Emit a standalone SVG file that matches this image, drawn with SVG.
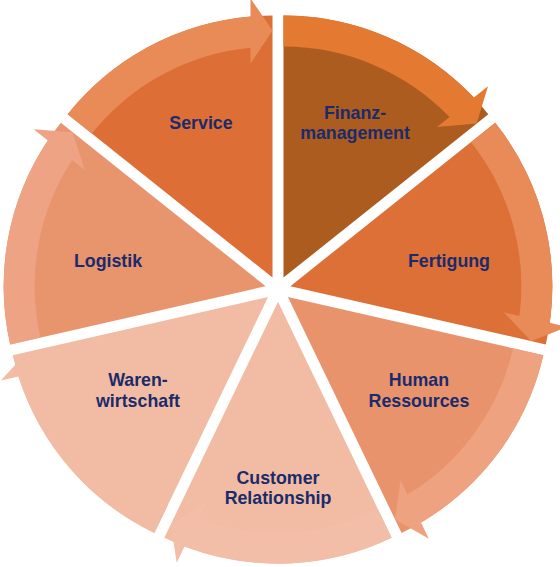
<svg xmlns="http://www.w3.org/2000/svg" width="560" height="567" viewBox="0 0 560 567">
<style>
.lbl{font-family:"Liberation Sans",Arial,sans-serif;font-weight:bold;font-size:17.8px;fill:#1a2b6b;text-anchor:middle}
</style>
<defs>
<path id="wedge" d="M0 0 L0 -262 A262 262 0 0 1 204.84 -163.35 Z"/>
<path id="band" d="M0 -262 A262 262 0 0 1 190.40 -179.97 L204.51 -191.23 L193.11 -154.00 L153.49 -150.55 L166.06 -160.57 A231 231 0 0 0 0 -231 Z"/>
</defs>
<rect width="560" height="567" fill="#ffffff"/>
<g id="finanz">
<use href="#wedge" transform="translate(283.50,277.58) rotate(0)" fill="#ad5c20"/>
<text class="lbl" x="355" y="119">Finanz-</text>
<text class="lbl" x="355" y="139">management</text>
</g>
<g id="fertigung">
<use href="#wedge" transform="translate(290.36,286.18) rotate(51.4286)" fill="#dd7036"/>
<text class="lbl" x="449" y="267">Fertigung</text>
</g>
<g id="human">
<use href="#wedge" transform="translate(287.91,296.91) rotate(102.857)" fill="#e8936b"/>
<text class="lbl" x="419" y="386">Human</text>
<text class="lbl" x="419" y="407">Ressources</text>
</g>
<g id="customer">
<use href="#wedge" transform="translate(278,301.68) rotate(154.286)" fill="#f2bca4"/>
<text class="lbl" x="278" y="484">Customer</text>
<text class="lbl" x="278" y="504">Relationship</text>
</g>
<g id="waren">
<use href="#wedge" transform="translate(268.09,296.91) rotate(205.714)" fill="#f2bba3"/>
<text class="lbl" x="138" y="386">Waren-</text>
<text class="lbl" x="138" y="407">wirtschaft</text>
</g>
<g id="logistik">
<use href="#wedge" transform="translate(265.64,286.18) rotate(257.143)" fill="#e8946d"/>
<text class="lbl" x="108" y="267">Logistik</text>
</g>
<g id="service">
<use href="#wedge" transform="translate(272.50,277.58) rotate(308.571)" fill="#dd6f36"/>
<text class="lbl" x="201" y="129">Service</text>
</g>
<g id="connectors">
<use href="#band" transform="translate(283.50,277.58) rotate(0)" fill="#e47a31"/>
<use href="#band" transform="translate(290.36,286.18) rotate(51.4286)" fill="#e88b58"/>
<use href="#band" transform="translate(287.91,296.91) rotate(102.857)" fill="#eea27f"/>
<use href="#band" transform="translate(278,301.68) rotate(154.286)" fill="#f3bea7"/>
<use href="#band" transform="translate(268.09,296.91) rotate(205.714)" fill="#f2bca4"/>
<use href="#band" transform="translate(265.64,286.18) rotate(257.143)" fill="#eea384"/>
<use href="#band" transform="translate(272.50,277.58) rotate(308.571)" fill="#e88b57"/>
</g>
</svg>
